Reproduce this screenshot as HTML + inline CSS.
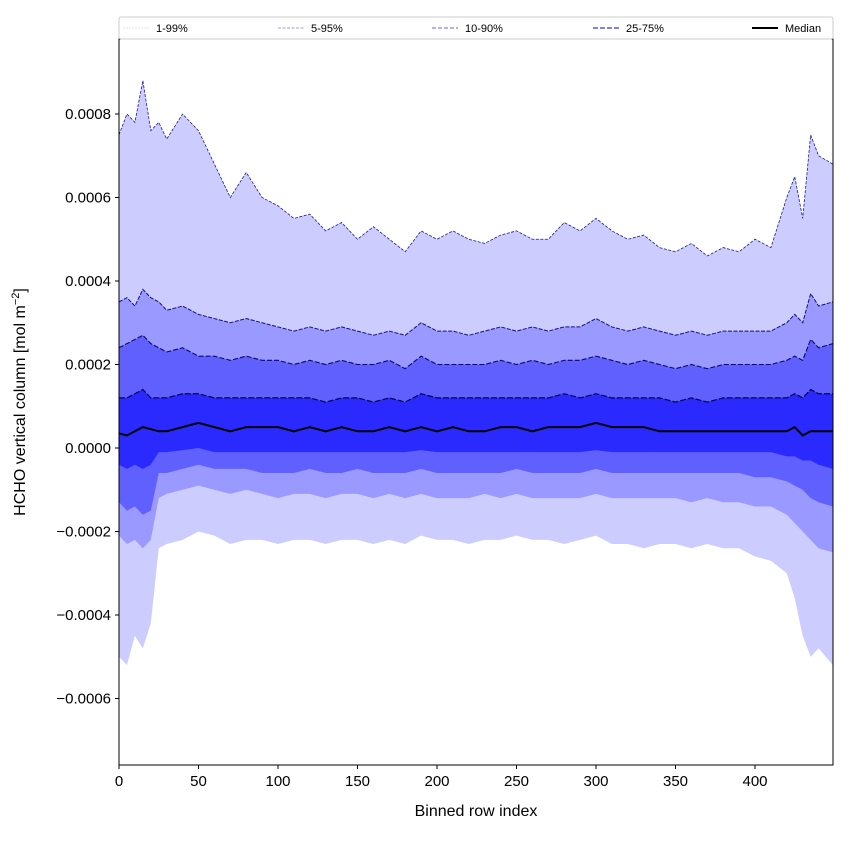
<!DOCTYPE html>
<html><head><meta charset="utf-8"><style>
body{margin:0;background:#fff;font-family:"Liberation Sans",sans-serif}
svg text{font-family:"Liberation Sans",sans-serif}
</style></head><body>
<svg id="c" width="850" height="850" xmlns="http://www.w3.org/2000/svg"></svg>
<script>
const rows=[0,5,10,15,20,25,30,40,50,60,70,80,90,100,110,120,130,140,150,160,170,180,190,200,210,220,230,240,250,260,270,280,290,300,310,320,330,340,350,360,370,380,390,400,410,420,425,430,435,440,449];
const p99=[0.00075,0.00080,0.00078,0.00088,0.00076,0.00078,0.00074,0.00080,0.00076,0.00068,0.00060,0.00066,0.00060,0.00058,0.00055,0.00056,0.00052,0.00054,0.00050,0.00053,0.00050,0.00047,0.00052,0.00050,0.00052,0.00050,0.00049,0.00051,0.00052,0.00050,0.00050,0.00054,0.00052,0.00055,0.00052,0.00050,0.00051,0.00048,0.00047,0.00049,0.00046,0.00048,0.00047,0.00050,0.00048,0.00060,0.00065,0.00055,0.00075,0.00070,0.00068];
const p95=[0.00035,0.00036,0.00034,0.00038,0.00036,0.00035,0.00033,0.00034,0.00032,0.00031,0.00030,0.00031,0.00030,0.00029,0.00028,0.00029,0.00028,0.00029,0.00028,0.00027,0.00028,0.00027,0.00030,0.00028,0.00028,0.00027,0.00028,0.00029,0.00028,0.00029,0.00028,0.00029,0.00029,0.00031,0.00029,0.00028,0.00029,0.00028,0.00027,0.00028,0.00027,0.00028,0.00028,0.00028,0.00028,0.00030,0.00032,0.00030,0.00037,0.00034,0.00035];
const p90=[0.00024,0.00025,0.00026,0.00027,0.00025,0.00024,0.00023,0.00024,0.00022,0.00022,0.00021,0.00022,0.00021,0.00021,0.00020,0.00021,0.00020,0.00021,0.00020,0.00020,0.00021,0.00019,0.00022,0.00020,0.00020,0.00020,0.00020,0.00021,0.00020,0.00021,0.00020,0.00021,0.00021,0.00022,0.00021,0.00020,0.00021,0.00020,0.00019,0.00020,0.00019,0.00020,0.00020,0.00020,0.00020,0.00021,0.00022,0.00021,0.00026,0.00024,0.00025];
const p75=[0.00012,0.00012,0.00013,0.00014,0.00012,0.00012,0.00012,0.00013,0.00013,0.00012,0.00012,0.00012,0.00012,0.00012,0.00012,0.00012,0.00011,0.00012,0.00012,0.00011,0.00012,0.00011,0.00013,0.00012,0.00012,0.00012,0.00012,0.00012,0.00012,0.00012,0.00012,0.00013,0.00012,0.00013,0.00012,0.00012,0.00012,0.00012,0.00011,0.00012,0.00011,0.00012,0.00012,0.00012,0.00012,0.00012,0.00013,0.00012,0.00014,0.00013,0.00013];
const med=[0.000035,0.00003,0.00004,0.00005,0.000045,0.00004,0.00004,0.00005,0.00006,0.00005,0.00004,0.00005,0.00005,0.00005,0.00004,0.00005,0.00004,0.00005,0.00004,0.00004,0.00005,0.00004,0.00005,0.00004,0.00005,0.00004,0.00004,0.00005,0.00005,0.00004,0.00005,0.00005,0.00005,0.00006,0.00005,0.00005,0.00005,0.00004,0.00004,0.00004,0.00004,0.00004,0.00004,0.00004,0.00004,0.00004,0.00005,0.00003,0.00004,0.00004,0.00004];
const p25=[-0.00004,-0.00005,-0.00004,-0.00005,-0.00004,-0.00001,-0.00001,-0.000005,0.0,-0.00001,-0.00001,-0.00001,-0.00001,-0.00001,-0.00001,-0.00001,-0.00001,-0.00001,-0.00001,-0.00001,-0.00001,-0.00001,-0.000005,-0.00001,-0.00001,-0.00001,-0.00001,-0.00001,-0.00001,-0.00001,-0.00001,-0.00001,-0.00001,-0.000005,-0.00001,-0.00001,-0.00001,-0.00001,-0.00001,-0.00001,-0.00001,-0.00001,-0.00001,-0.00001,-0.00001,-0.00002,-0.00002,-0.00003,-0.00003,-0.00004,-0.00005];
const p10=[-0.00013,-0.00015,-0.00014,-0.00016,-0.00015,-0.00006,-0.00006,-0.00005,-0.00004,-0.00005,-0.00005,-0.00005,-0.00006,-0.00006,-0.00006,-0.00005,-0.00006,-0.00006,-0.00005,-0.00006,-0.00006,-0.00006,-0.00005,-0.00006,-0.00006,-0.00006,-0.00006,-0.00006,-0.00005,-0.00006,-0.00006,-0.00006,-0.00006,-0.00005,-0.00006,-0.00006,-0.00006,-0.00006,-0.00006,-0.00006,-0.00006,-0.00006,-0.00006,-0.00007,-0.00007,-0.00008,-0.00009,-0.00010,-0.00012,-0.00013,-0.00014];
const p5=[-0.00021,-0.00023,-0.00022,-0.00024,-0.00022,-0.00012,-0.00011,-0.00010,-0.00009,-0.00010,-0.00011,-0.00010,-0.00011,-0.00012,-0.00011,-0.00011,-0.00012,-0.00011,-0.00011,-0.00012,-0.00011,-0.00012,-0.00011,-0.00012,-0.00012,-0.00012,-0.00011,-0.00012,-0.00011,-0.00012,-0.00012,-0.00012,-0.00012,-0.00011,-0.00012,-0.00012,-0.00012,-0.00012,-0.00012,-0.00013,-0.00012,-0.00013,-0.00013,-0.00014,-0.00014,-0.00016,-0.00018,-0.00020,-0.00022,-0.00024,-0.00025];
const p1=[-0.00050,-0.00052,-0.00045,-0.00048,-0.00042,-0.00024,-0.00023,-0.00022,-0.00020,-0.00021,-0.00023,-0.00022,-0.00022,-0.00023,-0.00022,-0.00022,-0.00023,-0.00022,-0.00022,-0.00023,-0.00022,-0.00023,-0.00021,-0.00022,-0.00022,-0.00023,-0.00022,-0.00022,-0.00021,-0.00022,-0.00022,-0.00023,-0.00022,-0.00021,-0.00023,-0.00023,-0.00024,-0.00023,-0.00023,-0.00024,-0.00023,-0.00024,-0.00024,-0.00026,-0.00027,-0.00030,-0.00036,-0.00045,-0.00050,-0.00048,-0.00052];
const xTicks=[0,50,100,150,200,250,300,350,400];
const yTicks=[-0.0006,-0.0004,-0.0002,0,0.0002,0.0004,0.0006,0.0008];
const yTickLabels=["\u22120.0006","\u22120.0004","\u22120.0002","0.0000","0.0002","0.0004","0.0006","0.0008"];

const L=119,R=833,T=39,B=765;
const X=v=>L+v*(755-L)/400;
const Y=v=>448-v*(448-114)/0.0008;
const NS="http://www.w3.org/2000/svg";
const svg=document.getElementById('c');
function mk(t,a,p){const e=document.createElementNS(NS,t);for(const k in a)e.setAttribute(k,a[k]);(p||svg).appendChild(e);return e;}
const clip=mk('clipPath',{id:'cl'});mk('rect',{x:L,y:T,width:R-L,height:B-T},clip);
const g=mk('g',{'clip-path':'url(#cl)'});
function band(lo,hi,col,name){
  let d='M'+rows.map((r,i)=>X(r)+','+Y(hi[i])).join('L');
  for(let i=rows.length-1;i>=0;i--)d+='L'+X(rows[i])+','+Y(lo[i]);
  const e=mk('path',{d:d+'Z',fill:col},g);
  
  
}
function line(v,col,w,dash,name){
  const e=mk('path',{d:'M'+rows.map((r,i)=>X(r)+','+Y(v[i])).join('L'),fill:'none',stroke:col,'stroke-width':w,'stroke-dasharray':dash||'none'},g);
  
  
}
band(p1,p99,'#ccccff','band-1-99');
band(p5,p95,'#9999ff','band-5-95');
band(p10,p90,'#6060ff','band-10-90');
band(p25,p75,'#2a2aff','band-25-75');
line(p99,'#1a1a99',0.8,'3,1.5','line-p99');
line(p95,'#101080',1,'4,1.5','line-p95');
line(p90,'#0a0a60',1.1,'5,2','line-p90');
line(p75,'#050540',1.2,'6,2','line-p75');
line(med,'#000',2,null,'median-line');
mk('rect',{x:L,y:T,width:R-L,height:B-T,fill:'none',stroke:'#000','stroke-width':1});
xTicks.forEach(v=>{
  mk('line',{x1:X(v),x2:X(v),y1:B,y2:B+4,stroke:'#000'});
  const t=mk('text',{x:X(v),y:B+21,'text-anchor':'middle','font-size':15});t.textContent=v;
  
  
});
yTicks.forEach((v,i)=>{
  mk('line',{x1:L-4,x2:L,y1:Y(v),y2:Y(v),stroke:'#000'});
  const t=mk('text',{x:L-8,y:Y(v)+5,'text-anchor':'end','font-size':15});t.textContent=yTickLabels[i];
  
  
});
const xl=mk('text',{x:476,y:816,'text-anchor':'middle','font-size':16});xl.textContent='Binned row index';


const yl=mk('text',{x:0,y:0,'text-anchor':'middle','font-size':16,transform:'translate(25,402) rotate(-90)'});
yl.innerHTML='HCHO vertical column [mol m<tspan dy="-6" font-size="11">\u22122</tspan><tspan dy="6">]</tspan>';


const lg=mk('g',{});


mk('rect',{x:119,y:17,width:714,height:22,fill:'#fff',stroke:'#ccc',rx:2},lg);
[['1-99%','#d8d8ff',0.8,'2,1',123],['5-95%','#9999ff',1,'3,1.5',278],['10-90%','#8080ff',1.2,'4,2',432],['25-75%','#5555ff',1.5,'5,2',593],['Median','#000',2,null,752]].forEach(e=>{
  const gg=mk('g',{},lg);
  
  
  mk('line',{x1:e[4],x2:e[4]+26,y1:28,y2:28,stroke:e[1],'stroke-width':e[2],'stroke-dasharray':e[3]||'none'},gg);
  const t=mk('text',{x:e[4]+33,y:32,'font-size':11},gg);t.textContent=e[0];
});
</script>
</body></html>
